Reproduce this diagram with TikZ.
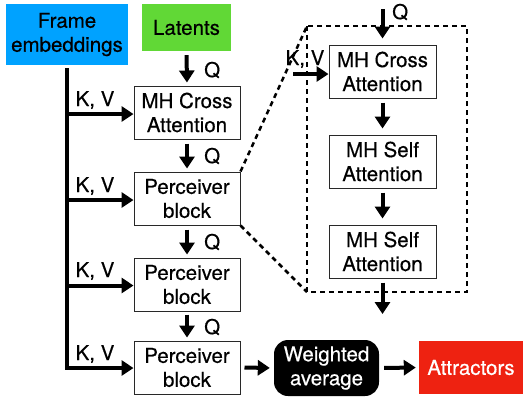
\documentclass[tikz,border=0pt]{standalone}
\usepackage{fontspec}
\setmainfont[FakeBold=0.4]{TeX Gyre Heros}
\usetikzlibrary{arrows.meta}
\definecolor{fblue}{RGB}{0,162,255}
\definecolor{lgreen}{RGB}{97,216,54}
\definecolor{ared}{RGB}{238,34,17}
\definecolor{bord}{RGB}{40,40,40}
\begin{document}
\begin{tikzpicture}[x=1pt,y=-1pt,
  txt/.style={font=\fontsize{20.5}{24}\selectfont, align=center, inner sep=0pt},
  boxnode/.style={txt, draw=bord, line width=1pt, minimum width=106pt, minimum height=53pt},
  fillbox/.style={txt, minimum width=#1, minimum height=53pt},
  arr/.style={line width=4pt, -{Triangle[length=12pt,width=15pt]}},
  lab/.style={font=\fontsize{20.5}{24}\selectfont, inner sep=0pt},
  dashline/.style={line width=2.5pt, dash pattern=on 5pt off 4pt}]
\useasboundingbox (0,0) rectangle (525,400);
% top inputs
\node[fillbox=122pt, fill=fblue, minimum height=61pt] (frame) at (67,34.5) {Frame\\embeddings};
\node[fillbox=89pt, fill=lgreen, minimum height=47pt] (lat) at (186.5,27.5) {Latents};
% left column
\node[boxnode] (mhc) at (187,112.5) {MH Cross\\Attention};
\node[boxnode] (p1) at (187,198.5) {Perceiver\\block};
\node[boxnode] (p2) at (187,284.5) {Perceiver\\block};
\node[boxnode] (p3) at (187,367.5) {Perceiver\\block};
\node[txt, fill=black, text=white, rounded corners=14pt, minimum width=105pt, minimum height=56pt] (wa) at (326.5,368) {Weighted\\average};
\node[fillbox=104pt, fill=ared, text=white] (att) at (471,367.5) {Attractors};
% inner blocks
\node[boxnode, minimum width=107pt] (imhc) at (382.5,71.5) {MH Cross\\Attention};
\node[boxnode, minimum width=107pt] (is1) at (382.5,161.5) {MH Self\\Attention};
\node[boxnode, minimum width=107pt] (is2) at (382.5,251.5) {MH Self\\Attention};
% dashed zoom box
\coordinate (dtl) at (307,26);
\coordinate (dbr) at (467,292);
\draw[dashline] (dtl) rectangle (dbr);
\draw[dashline] (p1.north east) -- (dtl);
\draw[dashline] (p1.south east) -- (dtl |- dbr);
% K,V bus
\coordinate (bus1) at (67,114);
\coordinate (bus2) at (67,200);
\coordinate (bus3) at (67,285.5);
\draw[line width=4pt] ([yshift=-3pt]frame.south) -- (67,370);
\draw[arr] (bus1) -- (mhc.west |- bus1);
\draw[arr] (bus2) -- (p1.west |- bus2);
\draw[arr] (bus3) -- (p2.west |- bus3);
\draw[arr] (67,368) -- (p3.west |- 0,368);
\node[lab, anchor=base] at (95,106) {K, V};
\node[lab, anchor=base] at (95,192) {K, V};
\node[lab, anchor=base] at (95,277) {K, V};
\node[lab, anchor=base] at (95,360) {K, V};
% Q arrows
\draw[arr, shorten <=4pt, shorten >=3pt] (lat.south) -- (mhc.north);
\draw[arr, shorten <=4pt, shorten >=3pt] (mhc.south) -- (p1.north);
\draw[arr, shorten <=4pt, shorten >=3pt] (p1.south) -- (p2.north);
\draw[arr, shorten <=3pt, shorten >=3pt] (p2.south) -- (p3.north);
\node[lab, anchor=west] at (204,70) {Q};
\node[lab, anchor=west] at (204,156) {Q};
\node[lab, anchor=west] at (204,242) {Q};
\node[lab, anchor=west] at (204,327) {Q};
% bottom row
\draw[arr, shorten <=4pt, shorten >=4pt] (p3.east) -- (wa.west);
\draw[arr, shorten <=5pt, shorten >=3pt] (wa.east) -- (att.west);
% inner arrows
\coordinate (iq) at (382.5,9);
\coordinate (ikv) at (293,74);
\coordinate (iout) at (382.5,314);
\draw[arr, shorten >=6pt] (iq) -- (imhc.north);
\node[lab, anchor=west] at (392,12) {Q};
\draw[arr] (ikv) -- (imhc.west |- ikv);
\node[lab, anchor=base] at (305,65) {K, V};
\draw[arr, shorten <=4pt, shorten >=6pt] (imhc.south) -- (is1.north);
\draw[arr, shorten <=4pt, shorten >=6pt] (is1.south) -- (is2.north);
\draw[arr, shorten <=4pt] (is2.south) -- (iout);
\end{tikzpicture}
\end{document}
